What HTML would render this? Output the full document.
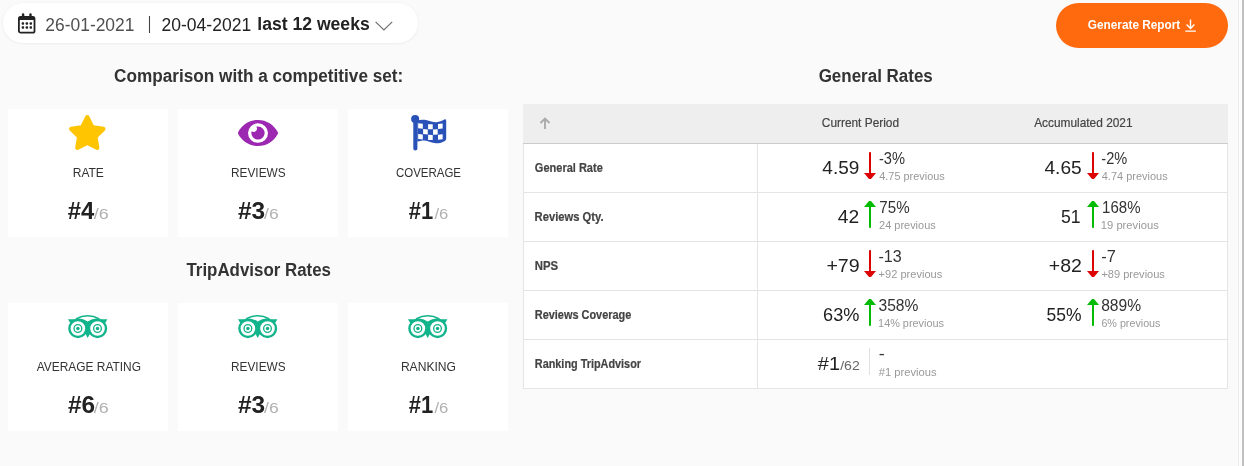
<!DOCTYPE html>
<html lang="en"><head><meta charset="utf-8"><title>Report</title>
<style>
html,body{margin:0;padding:0}
body{width:1244px;height:466px;position:relative;overflow:hidden;background:#fafafa;font-family:"Liberation Sans",sans-serif}
.t{position:absolute;white-space:nowrap;line-height:1;transform-origin:0 0;display:block}
.abs{position:absolute}
.lb{-webkit-text-stroke:0.2px #444}
.hd{-webkit-text-stroke:0.2px #444}
.card{position:absolute;background:#fff;width:160px;height:128px}
.pill{position:absolute;left:3px;top:3px;width:415px;height:39.5px;border-radius:20px;background:#fff;box-shadow:0 0.5px 2.5px rgba(0,0,0,.08)}
.btn{position:absolute;left:1056px;top:3px;width:172px;height:45px;border-radius:23px;background:#ff6a0f}
.tbl{position:absolute;left:523px;top:104px;width:705px;height:285px;background:#fff;border:1px solid #e5e5e5;box-sizing:border-box}
.row{position:absolute;left:0;width:704px;height:48px;border-top:1px solid #e0e0e0}
svg{position:absolute;overflow:visible}
</style></head><body>

<div class="abs" style="left:1238px;top:0;width:1px;height:466px;background:#ececec"></div>
<div class="abs" style="left:1239px;top:0;width:3px;height:466px;background:#fcfcfc"></div>
<div class="abs" style="left:1242px;top:0;width:2px;height:466px;background:#c1c1c1"></div>
<div class="pill"></div>
<svg style="left:18px;top:13px" width="18" height="21" viewBox="0 0 18 21">
<rect x="0.9" y="3.8" width="15.6" height="15.9" rx="1.8" fill="#fff" stroke="#222" stroke-width="1.8"/>
<rect x="0.9" y="3.8" width="15.6" height="3.2" fill="#222"/>
<rect x="3.9" y="0.3" width="2.4" height="4.2" rx="1.1" fill="#222"/><rect x="11.3" y="0.3" width="2.4" height="4.2" rx="1.1" fill="#222"/>
<g fill="#222"><rect x="3.65" y="9.20" width="2.5" height="2.5" rx="0.9"/><rect x="7.60" y="9.20" width="2.5" height="2.5" rx="0.9"/><rect x="11.55" y="9.20" width="2.5" height="2.5" rx="0.9"/><rect x="3.65" y="13.15" width="2.5" height="2.5" rx="0.9"/><rect x="7.60" y="13.15" width="2.5" height="2.5" rx="0.9"/><rect x="11.55" y="13.15" width="2.5" height="2.5" rx="0.9"/></g></svg>
<span class="t " style="left:45px;top:16px;font-size:18px;font-weight:400;color:#505050;transform:translateX(0.34px) scaleX(0.9676)">26-01-2021</span>
<span class="t " style="left:147px;top:15px;font-size:17.6px;font-weight:400;color:#444;transform:translateX(0.79px) scaleX(0.7628)">|</span>
<span class="t " style="left:161px;top:16px;font-size:18px;font-weight:400;color:#222;transform:translateX(0.53px) scaleX(0.9738)">20-04-2021</span>
<span class="t " style="left:257px;top:16px;font-size:17.5px;font-weight:700;color:#222;transform:translateX(0.28px) scaleX(1.0049)">last 12 weeks</span>
<svg style="left:375px;top:21px" width="19" height="10" viewBox="0 0 19 10"><path d="M0.6 0.9 L8.9 8.9 L17.2 0.9" fill="none" stroke="#707070" stroke-width="1.25"/></svg>
<div class="btn"></div>
<span class="t " style="left:1087px;top:18px;font-size:13px;font-weight:700;color:#fff;transform:translateX(0.85px) scaleX(0.9070)">Generate Report</span>
<svg style="left:1185px;top:19px" width="12" height="14" viewBox="0 0 12 14"><path d="M5.5 0.5 V9.5 M1.6 5.5 L5.5 9.6 L9.4 5.5 M0.3 12.1 H10.9" fill="none" stroke="#fff" stroke-width="1.4"/></svg>
<span class="t " style="left:114px;top:67px;font-size:18px;font-weight:700;color:#333;transform:translateX(0.11px) scaleX(0.9541)">Comparison with a competitive set:</span>
<span class="t " style="left:818px;top:67px;font-size:18px;font-weight:700;color:#333;transform:translateX(0.65px) scaleX(0.9430)">General Rates</span>
<span class="t " style="left:186px;top:261px;font-size:18px;font-weight:700;color:#333;transform:translateX(0.43px) scaleX(0.9383)">TripAdvisor Rates</span>
<div class="card" style="left:8px;top:109px"></div>
<svg style="left:69.4px;top:115.1px" width="36.6" height="35.1" viewBox="20 0 536 512" preserveAspectRatio="none"><path fill="#ffc500" d="M259.3 17.8L194 150.2 47.9 171.5c-26.2 3.8-36.7 36.1-17.7 54.6l105.7 103-25 145.5c-4.5 26.3 23.2 46 46.4 33.700L288 439.600l130.700 68.700c23.200 12.200 50.900-7.400 46.400-33.700l-25-145.500 105.700-103c19-18.500 8.500-50.800-17.700-54.600L382 150.200 316.700 17.800c-11.700-23.600-45.600-23.900-57.400 0z"/></svg>
<span class="t " style="left:72px;top:166px;font-size:13px;font-weight:400;color:#333;transform:translateX(0.71px) scaleX(0.9251)">RATE</span>
<span class="t " style="left:67px;top:200px;font-size:23px;font-weight:700;color:#222;transform:translateX(0.87px) scaleX(1.0348)">#4</span>
<span class="t " style="left:93px;top:207px;font-size:14px;font-weight:400;color:#b0b0b0;transform:translateX(0.75px) scaleX(1.2807)">/6</span>
<div class="card" style="left:178px;top:109px"></div>
<svg style="left:238.100px;top:119.700px" width="40" height="26.100" viewBox="0 64 576 384" preserveAspectRatio="none"><path fill="#9c27b0" d="M572.52 241.4C518.29 135.59 410.93 64 288 64S57.68 135.64 3.48 241.41a32.35 32.350 0 0 0 0 29.190C57.710 376.410 165.070 448 288 448s230.320-71.640 284.520-177.410a32.350 32.350 0 0 0 0-29.190zM288 400a144 144 0 1 1 144-144 143.930 143.930 0 0 1-144 144zm0-240a95.310 95.310 0 0 0-25.310 3.790 47.850 47.850 0 0 1-66.900 66.900A95.780 95.780 0 1 0 288 160z"/></svg>
<span class="t " style="left:231px;top:166px;font-size:13px;font-weight:400;color:#333;transform:translateX(0.05px) scaleX(0.9090)">REVIEWS</span>
<span class="t " style="left:237px;top:200px;font-size:23px;font-weight:700;color:#222;transform:translateX(0.99px) scaleX(1.0643)">#3</span>
<span class="t " style="left:264px;top:207px;font-size:14px;font-weight:400;color:#b0b0b0;transform:translateX(0.08px) scaleX(1.2502)">/6</span>
<div class="card" style="left:348px;top:109px"></div>
<svg style="left:410.8px;top:114.8px" width="36" height="36" viewBox="0 0 36 36">
<circle cx="4.15" cy="3.95" r="4.05" fill="#2951b7"/><rect x="2.3" y="3" width="4.1" height="32.6" rx="2.05" fill="#2951b7"/>
<path d="M6.3 5.6 C9 4.6 12 4.4 15 5 C19 5.8 22 7.3 25.5 7.2 C28.500 7.100 31 5.800 33.200 4.600 Q35.200 3.600 35.200 5.800 V23.800 Q35.200 25.200 33.800 25.900 C31 27.300 28.500 28.300 25 28.200 C21 28.100 17 25.600 13.500 25.400 C11 25.300 8.500 26 6.300 26.700 Z" fill="#2951b7"/>
<path d="M7.16 8.30 L11.82 8.64 L11.82 13.66 L7.16 13.32 Z" fill="#fff"/><path d="M17.08 9.13 L21.74 9.25 L21.74 14.27 L17.08 14.15 Z" fill="#fff"/><path d="M27.00 8.97 L31.66 8.47 L31.66 13.49 L27.00 13.99 Z" fill="#fff"/><path d="M12.12 14.05 L16.78 14.48 L16.78 19.50 L12.12 19.07 Z" fill="#fff"/><path d="M22.04 14.61 L26.70 14.37 L26.70 19.39 L22.04 19.63 Z" fill="#fff"/><path d="M7.16 19.04 L11.82 19.38 L11.82 24.40 L7.16 24.06 Z" fill="#fff"/><path d="M17.08 19.87 L21.74 19.99 L21.74 25.01 L17.08 24.89 Z" fill="#fff"/><path d="M27.00 19.71 L31.66 19.21 L31.66 24.23 L27.00 24.73 Z" fill="#fff"/></svg>
<span class="t " style="left:395px;top:166px;font-size:13px;font-weight:400;color:#333;transform:translateX(0.91px) scaleX(0.8833)">COVERAGE</span>
<span class="t " style="left:408px;top:200px;font-size:23px;font-weight:700;color:#222;transform:translateX(0.81px) scaleX(0.9536)">#1</span>
<span class="t " style="left:434px;top:207px;font-size:14px;font-weight:400;color:#b0b0b0;transform:translateX(0.48px) scaleX(1.1858)">/6</span>
<div class="card" style="left:8px;top:303px"></div>
<svg style="left:68.1px;top:314.7px" width="40" height="24" viewBox="0 0 40 24"><g fill="#12b48b"><path d="M0 4.3 H10 L2.4 8.2 Z"/><path d="M39.4 4.300 H29.400 L37 8.200 Z"/>
<path d="M10.500 3.300 Q16.500 4.200 19.700 6.500 Q22.900 4.200 28.900 3.300 L30 13 L21.600 19.600 L19.700 22.900 L17.800 19.600 L9.400 13 Z"/></g>
<path d="M7.900 3.900 Q19.700 -2.400 31.500 3.900" fill="none" stroke="#12b48b" stroke-width="1.500"/>
<circle cx="9.900" cy="13.500" r="8.500" fill="#fff" stroke="#12b48b" stroke-width="2.400"/><circle cx="29.500" cy="13.500" r="8.500" fill="#fff" stroke="#12b48b" stroke-width="2.400"/>
<circle cx="9.900" cy="13.500" r="3.85" fill="none" stroke="#12b48b" stroke-width="1.35"/><circle cx="29.500" cy="13.500" r="3.85" fill="none" stroke="#12b48b" stroke-width="1.35"/>
<circle cx="9.900" cy="13.500" r="1.75" fill="#12b48b"/><circle cx="29.500" cy="13.500" r="1.75" fill="#12b48b"/></svg>
<span class="t " style="left:36px;top:360px;font-size:13px;font-weight:400;color:#333;transform:translateX(0.68px) scaleX(0.9176)">AVERAGE RATING</span>
<span class="t " style="left:67px;top:394px;font-size:23px;font-weight:700;color:#222;transform:translateX(0.97px) scaleX(1.0611)">#6</span>
<span class="t " style="left:93px;top:401px;font-size:14px;font-weight:400;color:#b0b0b0;transform:translateX(0.75px) scaleX(1.2807)">/6</span>
<div class="card" style="left:178px;top:303px"></div>
<svg style="left:238.1px;top:314.7px" width="40" height="24" viewBox="0 0 40 24"><g fill="#12b48b"><path d="M0 4.3 H10 L2.4 8.2 Z"/><path d="M39.4 4.300 H29.400 L37 8.200 Z"/>
<path d="M10.500 3.300 Q16.500 4.200 19.700 6.500 Q22.900 4.200 28.900 3.300 L30 13 L21.600 19.600 L19.700 22.900 L17.800 19.600 L9.400 13 Z"/></g>
<path d="M7.900 3.900 Q19.700 -2.400 31.500 3.900" fill="none" stroke="#12b48b" stroke-width="1.500"/>
<circle cx="9.900" cy="13.500" r="8.500" fill="#fff" stroke="#12b48b" stroke-width="2.400"/><circle cx="29.500" cy="13.500" r="8.500" fill="#fff" stroke="#12b48b" stroke-width="2.400"/>
<circle cx="9.900" cy="13.500" r="3.85" fill="none" stroke="#12b48b" stroke-width="1.35"/><circle cx="29.500" cy="13.500" r="3.85" fill="none" stroke="#12b48b" stroke-width="1.35"/>
<circle cx="9.900" cy="13.500" r="1.75" fill="#12b48b"/><circle cx="29.500" cy="13.500" r="1.75" fill="#12b48b"/></svg>
<span class="t " style="left:231px;top:360px;font-size:13px;font-weight:400;color:#333;transform:translateX(0.05px) scaleX(0.9090)">REVIEWS</span>
<span class="t " style="left:237px;top:394px;font-size:23px;font-weight:700;color:#222;transform:translateX(0.99px) scaleX(1.0643)">#3</span>
<span class="t " style="left:264px;top:401px;font-size:14px;font-weight:400;color:#b0b0b0;transform:translateX(0.08px) scaleX(1.2502)">/6</span>
<div class="card" style="left:348px;top:303px"></div>
<svg style="left:408.1px;top:314.7px" width="40" height="24" viewBox="0 0 40 24"><g fill="#12b48b"><path d="M0 4.3 H10 L2.4 8.2 Z"/><path d="M39.4 4.300 H29.400 L37 8.200 Z"/>
<path d="M10.500 3.300 Q16.500 4.200 19.700 6.500 Q22.900 4.200 28.900 3.300 L30 13 L21.600 19.600 L19.700 22.900 L17.800 19.600 L9.400 13 Z"/></g>
<path d="M7.900 3.900 Q19.700 -2.400 31.500 3.900" fill="none" stroke="#12b48b" stroke-width="1.500"/>
<circle cx="9.900" cy="13.500" r="8.500" fill="#fff" stroke="#12b48b" stroke-width="2.400"/><circle cx="29.500" cy="13.500" r="8.500" fill="#fff" stroke="#12b48b" stroke-width="2.400"/>
<circle cx="9.900" cy="13.500" r="3.85" fill="none" stroke="#12b48b" stroke-width="1.35"/><circle cx="29.500" cy="13.500" r="3.85" fill="none" stroke="#12b48b" stroke-width="1.35"/>
<circle cx="9.900" cy="13.500" r="1.75" fill="#12b48b"/><circle cx="29.500" cy="13.500" r="1.75" fill="#12b48b"/></svg>
<span class="t " style="left:400px;top:360px;font-size:13px;font-weight:400;color:#333;transform:translateX(0.89px) scaleX(0.9303)">RANKING</span>
<span class="t " style="left:408px;top:394px;font-size:23px;font-weight:700;color:#222;transform:translateX(0.81px) scaleX(0.9536)">#1</span>
<span class="t " style="left:434px;top:401px;font-size:14px;font-weight:400;color:#b0b0b0;transform:translateX(0.48px) scaleX(1.1858)">/6</span>
<div class="tbl"></div>
<div class="abs" style="left:523px;top:104px;width:705px;height:39px;background:#eee"></div>
<div class="abs" style="left:523px;top:143px;width:705px;height:1px;background:#ccc"></div>
<div class="abs" style="left:524px;top:192px;width:703px;height:1px;background:#e4e4e4"></div>
<div class="abs" style="left:524px;top:241px;width:703px;height:1px;background:#e4e4e4"></div>
<div class="abs" style="left:524px;top:290px;width:703px;height:1px;background:#e4e4e4"></div>
<div class="abs" style="left:524px;top:339px;width:703px;height:1px;background:#e4e4e4"></div>
<div class="abs" style="left:757px;top:144px;width:1px;height:244px;background:#e4e4e4"></div>
<svg style="left:539px;top:117px" width="12" height="13" viewBox="0 0 12 13"><path d="M6 12 V2.200 M1.500 6 L6 1.500 L10.500 6" fill="none" stroke="#aaa" stroke-width="1.900"/></svg>
<span class="t hd" style="left:821px;top:116px;font-size:13px;font-weight:400;color:#444;transform:translateX(0.81px) scaleX(0.9135)">Current Period</span>
<span class="t hd" style="left:1034px;top:116px;font-size:13px;font-weight:400;color:#444;transform:translateX(0.13px) scaleX(0.9142)">Accumulated 2021</span>
<span class="t lb" style="left:534px;top:162px;font-size:12px;font-weight:700;color:#444;transform:translateX(0.86px) scaleX(0.9173)">General Rate</span>
<span class="t lb" style="left:534px;top:211px;font-size:12px;font-weight:700;color:#444;transform:translateX(0.57px) scaleX(0.9341)">Reviews Qty.</span>
<span class="t lb" style="left:534px;top:260px;font-size:12px;font-weight:700;color:#444;transform:translateX(0.75px) scaleX(0.9451)">NPS</span>
<span class="t lb" style="left:534px;top:309px;font-size:12px;font-weight:700;color:#444;transform:translateX(0.81px) scaleX(0.9099)">Reviews Coverage</span>
<span class="t lb" style="left:534px;top:358px;font-size:12px;font-weight:700;color:#444;transform:translateX(0.82px) scaleX(0.9048)">Ranking TripAdvisor</span>
<span class="t " style="left:822px;top:158px;font-size:19px;font-weight:400;color:#222;transform:translateX(0.33px) scaleX(0.9991)">4.59</span>
<svg style="left:864px;top:152px" width="12" height="27" viewBox="0 0 12 27"><rect x="5" y="0.2" width="2" height="23" fill="#dd0303"/><path d="M0 21 H12 L7 27 H5 Z" fill="#dd0303"/></svg>
<span class="t " style="left:878px;top:151px;font-size:16px;font-weight:400;color:#333;transform:translateX(0.89px) scaleX(0.9146)">-3%</span>
<span class="t " style="left:879px;top:171px;font-size:11px;font-weight:400;color:#999;transform:translateX(0.21px) scaleX(0.9923)">4.75 previous</span>
<span class="t " style="left:1044px;top:158px;font-size:19px;font-weight:400;color:#222;transform:translateX(0.42px) scaleX(1.0080)">4.65</span>
<svg style="left:1086.8px;top:152px" width="12" height="27" viewBox="0 0 12 27"><rect x="5" y="0.2" width="2" height="23" fill="#dd0303"/><path d="M0 21 H12 L7 27 H5 Z" fill="#dd0303"/></svg>
<span class="t " style="left:1101px;top:151px;font-size:16px;font-weight:400;color:#333;transform:translateX(0.34px) scaleX(0.9115)">-2%</span>
<span class="t " style="left:1101px;top:171px;font-size:11px;font-weight:400;color:#999;transform:translateX(0.76px) scaleX(0.9980)">4.74 previous</span>
<span class="t " style="left:837px;top:207px;font-size:19px;font-weight:400;color:#222;transform:translateX(0.80px) scaleX(1.0117)">42</span>
<svg style="left:864px;top:201px" width="12" height="27" viewBox="0 0 12 27"><rect x="5" y="3" width="2" height="23.8" fill="#03bb03"/><path d="M0 6 H12 L7 0 H5 Z" fill="#03bb03"/></svg>
<span class="t " style="left:879px;top:200px;font-size:16px;font-weight:400;color:#333;transform:translateX(0.35px) scaleX(0.9451)">75%</span>
<span class="t " style="left:879px;top:220px;font-size:11px;font-weight:400;color:#999;transform:translateX(0.08px) scaleX(0.9960)">24 previous</span>
<span class="t " style="left:1060px;top:207px;font-size:19px;font-weight:400;color:#222;transform:translateX(0.89px) scaleX(0.9271)">51</span>
<svg style="left:1086.8px;top:201px" width="12" height="27" viewBox="0 0 12 27"><rect x="5" y="3" width="2" height="23.8" fill="#03bb03"/><path d="M0 6 H12 L7 0 H5 Z" fill="#03bb03"/></svg>
<span class="t " style="left:1102px;top:200px;font-size:16px;font-weight:400;color:#333;transform:translateX(0.07px) scaleX(0.9389)">168%</span>
<span class="t " style="left:1100px;top:220px;font-size:11px;font-weight:400;color:#999;transform:translateX(0.82px) scaleX(1.0183)">19 previous</span>
<span class="t " style="left:826px;top:256px;font-size:19px;font-weight:400;color:#222;transform:translateX(0.40px) scaleX(1.0310)">+79</span>
<svg style="left:864px;top:250px" width="12" height="27" viewBox="0 0 12 27"><rect x="5" y="0.2" width="2" height="23" fill="#dd0303"/><path d="M0 21 H12 L7 27 H5 Z" fill="#dd0303"/></svg>
<span class="t " style="left:878px;top:249px;font-size:16px;font-weight:400;color:#333;transform:translateX(0.44px) scaleX(1.0051)">-13</span>
<span class="t " style="left:878px;top:269px;font-size:11px;font-weight:400;color:#999;transform:translateX(0.55px) scaleX(1.0063)">+92 previous</span>
<span class="t " style="left:1048px;top:256px;font-size:19px;font-weight:400;color:#222;transform:translateX(0.76px) scaleX(1.0279)">+82</span>
<svg style="left:1086.8px;top:250px" width="12" height="27" viewBox="0 0 12 27"><rect x="5" y="0.2" width="2" height="23" fill="#dd0303"/><path d="M0 21 H12 L7 27 H5 Z" fill="#dd0303"/></svg>
<span class="t " style="left:1101px;top:249px;font-size:16px;font-weight:400;color:#333;transform:translateX(0.26px) scaleX(1.0220)">-7</span>
<span class="t " style="left:1101px;top:269px;font-size:11px;font-weight:400;color:#999;transform:translateX(0.41px) scaleX(1.0026)">+89 previous</span>
<span class="t " style="left:823px;top:305px;font-size:19px;font-weight:400;color:#222;transform:translateX(0.09px) scaleX(0.9549)">63%</span>
<svg style="left:864px;top:299px" width="12" height="27" viewBox="0 0 12 27"><rect x="5" y="3" width="2" height="23.8" fill="#03bb03"/><path d="M0 6 H12 L7 0 H5 Z" fill="#03bb03"/></svg>
<span class="t " style="left:878px;top:298px;font-size:16px;font-weight:400;color:#333;transform:translateX(0.48px) scaleX(0.9758)">358%</span>
<span class="t " style="left:878px;top:318px;font-size:11px;font-weight:400;color:#999;transform:translateX(0.08px) scaleX(0.9889)">14% previous</span>
<span class="t " style="left:1046px;top:305px;font-size:19px;font-weight:400;color:#222;transform:translateX(0.50px) scaleX(0.9191)">55%</span>
<svg style="left:1086.8px;top:299px" width="12" height="27" viewBox="0 0 12 27"><rect x="5" y="3" width="2" height="23.8" fill="#03bb03"/><path d="M0 6 H12 L7 0 H5 Z" fill="#03bb03"/></svg>
<span class="t " style="left:1101px;top:298px;font-size:16px;font-weight:400;color:#333;transform:translateX(0.14px) scaleX(0.9768)">889%</span>
<span class="t " style="left:1101px;top:318px;font-size:11px;font-weight:400;color:#999;transform:translateX(0.39px) scaleX(0.9754)">6% previous</span>
<span class="t " style="left:817px;top:354px;font-size:19px;font-weight:400;color:#222;transform:translateX(0.81px) scaleX(1.0474)">#1</span>
<span class="t " style="left:840px;top:359px;font-size:13px;font-weight:400;color:#666;transform:translateX(0.14px) scaleX(1.0828)">/62</span>
<div class="abs" style="left:869px;top:348px;width:1.3px;height:27px;background:#e0e0e0"></div>
<span class="t " style="left:878px;top:346px;font-size:16px;font-weight:400;color:#333;transform:translateX(0.69px) scaleX(1.1106)">-</span>
<span class="t " style="left:878px;top:367px;font-size:11px;font-weight:400;color:#999;transform:translateX(0.69px) scaleX(1.0181)">#1 previous</span>
</body></html>
